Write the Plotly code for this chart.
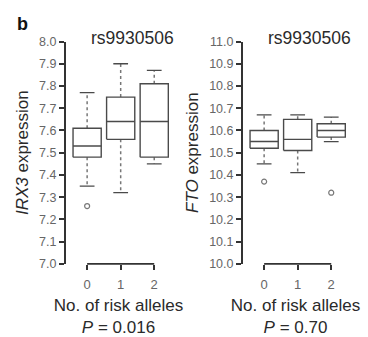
import plotly.graph_objects as go

# ---------------- data ----------------
categories = [0, 1, 2]
tick_labels = ["0", "1", "2"]

# IRX3 expression (left panel)
irx3_lower = [7.35, 7.32, 7.45]
irx3_q1 = [7.48, 7.56, 7.48]
irx3_median = [7.53, 7.64, 7.64]
irx3_q3 = [7.61, 7.75, 7.81]
irx3_upper = [7.77, 7.90, 7.87]
irx3_outlier_x = [0]
irx3_outlier_y = [7.26]

# FTO expression (right panel)
fto_lower = [10.45, 10.41, 10.55]
fto_q1 = [10.52, 10.51, 10.57]
fto_median = [10.55, 10.56, 10.60]
fto_q3 = [10.60, 10.65, 10.63]
fto_upper = [10.67, 10.67, 10.66]
fto_outlier_x = [0, 2]
fto_outlier_y = [10.37, 10.32]

irx3_ticks = [7.0, 7.1, 7.2, 7.3, 7.4, 7.5, 7.6, 7.7, 7.8, 7.9, 8.0]
fto_ticks = [10.0, 10.1, 10.2, 10.3, 10.4, 10.5, 10.6, 10.7, 10.8, 10.9, 11.0]

snp = "rs9930506"
x_title = "No. of risk alleles"
p_left = "0.016"
p_right = "0.70"

# ---------------- style ----------------
W, H = 368, 337
FONT = "Liberation Sans, Arial, sans-serif"
LINE = "#4a4a4a"
AXIS = "#333333"
TEXT = "#2a2a2a"
TICKTXT = "#666666"
HALF = 0.42   # half box width (category units)
CAP = 0.22    # half cap width


def px_x(p):
    return p / W


def px_y(p):
    return 1 - p / H


fig = go.Figure()


def add_panel(xa, ya, lower, q1, med, q3, upper, ox, oy):
    bx, by = [], []
    wx, wy = [], []
    cx, cy = [], []
    for i, c in enumerate(categories):
        bx += [c - HALF, c + HALF, c + HALF, c - HALF, c - HALF, None,
               c - HALF, c + HALF, None]
        by += [q1[i], q1[i], q3[i], q3[i], q1[i], None, med[i], med[i], None]
        wx += [c, c, None, c, c, None]
        wy += [q3[i], upper[i], None, q1[i], lower[i], None]
        cx += [c - CAP, c + CAP, None, c - CAP, c + CAP, None]
        cy += [upper[i], upper[i], None, lower[i], lower[i], None]
    common = dict(xaxis=xa, yaxis=ya, showlegend=False, hoverinfo="skip",
                  mode="lines")
    fig.add_trace(go.Scatter(x=wx, y=wy, line=dict(color="#777777", width=1.5,
                                                     dash="dot"), **common))
    fig.add_trace(go.Scatter(x=cx, y=cy, line=dict(color=LINE, width=1.3),
                             **common))
    fig.add_trace(go.Scatter(x=bx, y=by, line=dict(color=LINE, width=1.4),
                             **common))
    fig.add_trace(go.Scatter(x=ox, y=oy, mode="markers", xaxis=xa, yaxis=ya,
                             showlegend=False, hoverinfo="skip",
                             marker=dict(symbol="circle-open", size=5,
                                         color="#777777",
                                         line=dict(width=1.2))))


add_panel("x", "y", irx3_lower, irx3_q1, irx3_median, irx3_q3, irx3_upper,
          irx3_outlier_x, irx3_outlier_y)
add_panel("x2", "y2", fto_lower, fto_q1, fto_median, fto_q3, fto_upper,
          fto_outlier_x, fto_outlier_y)

ydom = [px_y(268), px_y(36)]
xr = [-0.63, 2.5]

xcommon = dict(range=xr, tickvals=categories, ticktext=tick_labels,
               showline=False, showgrid=False, zeroline=False,
               ticks="outside", ticklen=5, tickwidth=1.6, tickcolor=AXIS,
               ticklabelstandoff=4,
               tickfont=dict(family=FONT, size=13, color=TICKTXT),
               title=dict(font=dict(family=FONT, size=17, color=TEXT),
                          standoff=7))
ycommon = dict(showline=True, linecolor=AXIS, linewidth=2, showgrid=False,
               zeroline=False, ticks="outside", ticklen=5, tickwidth=1.6,
               tickcolor=AXIS, tickformat=".1f",
               tickfont=dict(family=FONT, size=12.5, color=TICKTXT),
               title=dict(font=dict(family=FONT, size=17, color=TEXT),
                          standoff=6))

fig.update_layout(
    width=W, height=H,
    margin=dict(l=0, r=0, t=0, b=0),
    paper_bgcolor="white", plot_bgcolor="white",
    font=dict(family=FONT, color=TEXT),
    xaxis=dict(domain=[px_x(66), px_x(171)], anchor="y",
               title_text=x_title + "<br><i>P</i> = " + p_left, **xcommon),
    xaxis2=dict(domain=[px_x(243), px_x(348)], anchor="y2",
                title_text=x_title + "<br><i>P</i> = " + p_right, **xcommon),
    yaxis=dict(domain=ydom, anchor="x", range=[irx3_ticks[0], irx3_ticks[-1]],
               tickvals=irx3_ticks, title_text="<i>IRX3</i> expression",
               **ycommon),
    yaxis2=dict(domain=ydom, anchor="x2", range=[fto_ticks[0], fto_ticks[-1]],
                tickvals=fto_ticks, title_text="<i>FTO</i> expression",
                **ycommon),
)

for xa, ya in (("x", "y"), ("x2", "y2")):
    fig.add_shape(type="line", xref=xa, yref=ya + " domain",
                  x0=categories[0], x1=categories[-1], y0=0, y1=0,
                  line=dict(color=AXIS, width=1.8))

fig.add_annotation(text=snp, xref="paper", yref="paper", x=px_x(132),
                   y=px_y(32), xanchor="center", yanchor="middle",
                   showarrow=False,
                   font=dict(family=FONT, size=17.5, color=TEXT))
fig.add_annotation(text=snp, xref="paper", yref="paper", x=px_x(309),
                   y=px_y(32), xanchor="center", yanchor="middle",
                   showarrow=False,
                   font=dict(family=FONT, size=17.5, color=TEXT))
fig.add_annotation(text="<b>b</b>", xref="paper", yref="paper",
                   x=px_x(22), y=px_y(18), xanchor="center", yanchor="middle",
                   showarrow=False,
                   font=dict(family=FONT, size=18, color="#111111"))

fig.write_html("out.html",
               config={"displayModeBar": False},
               post_script="document.body.style.margin='0';"
                           "document.body.style.overflow='hidden';")
